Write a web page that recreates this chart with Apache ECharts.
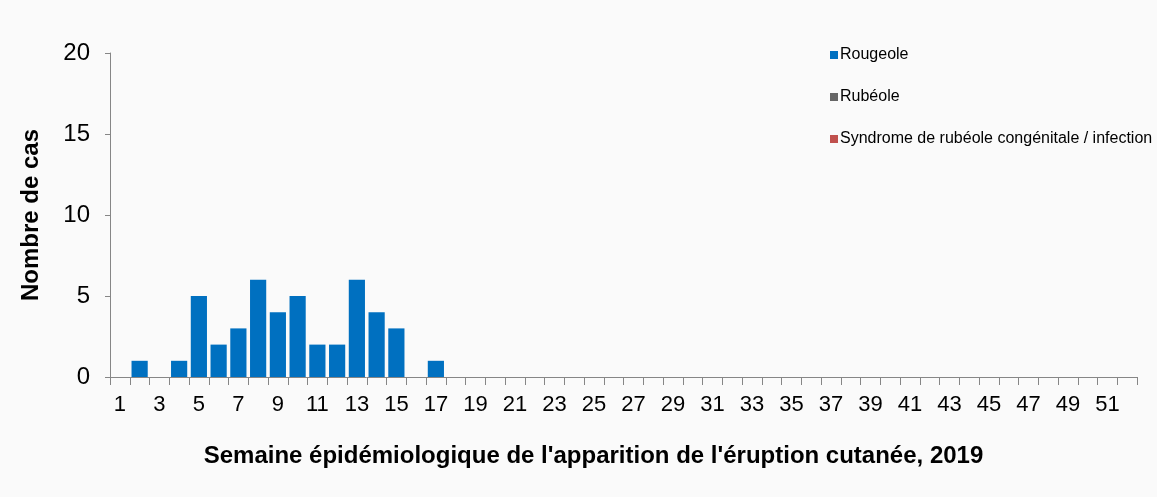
<!DOCTYPE html>
<html>
<head>
<meta charset="utf-8">
<script src="https://cdn.jsdelivr.net/npm/echarts@6/dist/echarts.min.js"></script>
<style>
  html, body { margin: 0; padding: 0; background: #fafafa; }
  #chart { width: 1157px; height: 497px; }
</style>
</head>
<body>
<div id="chart"></div>
<script>
// weeks 1..52
const weeks = [];
for (let w = 1; w <= 52; w++) weeks.push(String(w));

const rougeole = [0, 1, 0, 1, 5, 2, 3, 6, 4, 5, 2, 2, 6, 4, 3, 0, 1,
  0, 0, 0, 0, 0, 0, 0, 0, 0, 0, 0, 0, 0, 0, 0, 0, 0, 0,
  0, 0, 0, 0, 0, 0, 0, 0, 0, 0, 0, 0, 0, 0, 0, 0, 0];
const rubeole = new Array(52).fill(0);
const src = new Array(52).fill(0);

const font = "Liberation Sans, Arial, sans-serif";
const axisColor = "#868686";

var myChart = echarts.init(document.getElementById("chart"));

myChart.setOption({
  backgroundColor: "#fafafa",
  animation: false,
  textStyle: { fontFamily: font, color: "#000" },
  grid: { left: 110, right: 20, top: 53, bottom: 120, containLabel: false },
  legend: {
    orient: "vertical",
    left: 825,
    top: 42,
    itemWidth: 8,
    itemHeight: 8,
    itemGap: 26,
    icon: "rect",
    textStyle: { fontFamily: font, fontSize: 16, color: "#000", padding: [0, 0, 0, -3] },
    data: ["Rougeole", "Rubéole", "Syndrome de rubéole congénitale / infection"]
  },
  xAxis: {
    type: "category",
    data: weeks,
    name: "Semaine épidémiologique de l'apparition de l'éruption cutanée, 2019",
    nameLocation: "middle",
    nameGap: 67,
    nameTextStyle: { fontFamily: font, fontSize: 24, fontWeight: "bold", color: "#000", padding: [0, 60, 0, 0] },
    axisLine: { lineStyle: { color: axisColor, width: 1 } },
    axisTick: { show: true, interval: 0, length: 8, alignWithLabel: false, lineStyle: { color: axisColor } },
    axisLabel: { interval: 1, fontSize: 22, color: "#000", margin: 17, fontFamily: font }
  },
  yAxis: {
    type: "value",
    min: 0,
    max: 20,
    interval: 5,
    name: "Nombre de cas",
    nameLocation: "middle",
    nameGap: 67,
    nameTextStyle: { fontFamily: font, fontSize: 24, fontWeight: "bold", color: "#000" },
    splitLine: { show: false },
    axisLine: { show: true, lineStyle: { color: axisColor, width: 1 } },
    axisTick: { show: true, length: 5, inside: false, lineStyle: { color: axisColor } },
    axisLabel: { fontSize: 24, color: "#000", margin: 20, fontFamily: font }
  },
  series: [
    {
      name: "Rougeole",
      type: "bar",
      stack: "cas",
      data: rougeole,
      barCategoryGap: "18%",
      itemStyle: { color: "#0070C0" }
    },
    {
      name: "Rubéole",
      type: "bar",
      stack: "cas",
      data: rubeole,
      itemStyle: { color: "#666666" }
    },
    {
      name: "Syndrome de rubéole congénitale / infection",
      type: "bar",
      stack: "cas",
      data: src,
      itemStyle: { color: "#C0504D" }
    }
  ]
});
</script>
</body>
</html>
